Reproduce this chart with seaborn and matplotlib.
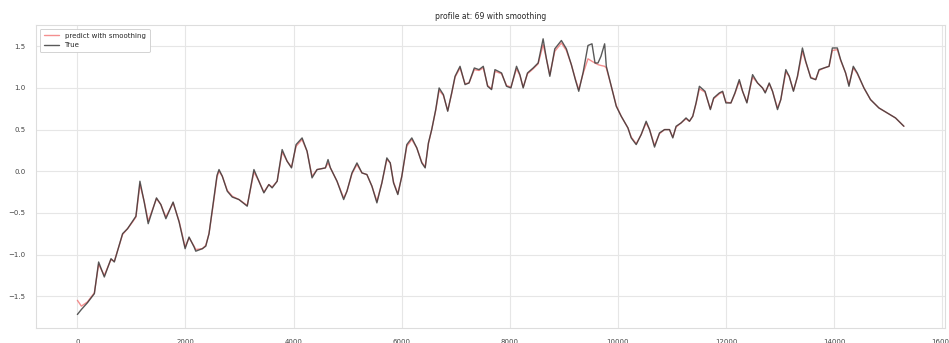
import matplotlib
matplotlib.use("Agg")
import matplotlib.pyplot as plt
import seaborn as sns
import pandas as pd

# sample positions along the profile
step = [0, 74, 185, 314, 393, 498, 622, 683, 836, 928, 1020, 1083, 1157, 1236, 1310,
        1463, 1544, 1637, 1771, 1882, 1993, 2066, 2159, 2190, 2312, 2375, 2435, 2509,
        2583, 2620, 2681, 2773, 2865, 2989, 3142, 3266, 3358, 3450, 3542, 3603, 3696,
        3788, 3880, 3961, 4046, 4157, 4249, 4341, 4434, 4588, 4637, 4681, 4803, 4926,
        4987, 5080, 5172, 5264, 5356, 5449, 5541, 5633, 5725, 5788, 5849, 5928, 6002,
        6094, 6187, 6279, 6371, 6434, 6494, 6555, 6629, 6692, 6771, 6851, 6924, 6987,
        7079, 7172, 7245, 7343, 7430, 7509, 7589, 7662, 7725, 7847, 7939, 8020, 8124,
        8186, 8247, 8327, 8432, 8524, 8616, 8677, 8740, 8832, 8954, 9046, 9138, 9212,
        9275, 9354, 9446, 9520, 9576, 9631, 9686, 9754, 9785, 9877, 9969, 10061, 10185,
        10246, 10338, 10430, 10522, 10585, 10677, 10769, 10862, 10954, 11015, 11076,
        11168, 11260, 11323, 11384, 11445, 11507, 11611, 11710, 11771, 11876, 11937,
        11998, 12090, 12164, 12245, 12306, 12386, 12491, 12583, 12675, 12725, 12799,
        12860, 12952, 13013, 13106, 13168, 13247, 13321, 13413, 13474, 13567, 13659,
        13721, 13813, 13906, 13967, 14059, 14120, 14212, 14274, 14354, 14428, 14551,
        14673, 14828, 14981, 15135, 15290]

true_vals = [-1.72, -1.66, -1.58, -1.47, -1.09, -1.27, -1.05, -1.09, -0.75, -0.69, -0.60,
             -0.54, -0.12, -0.37, -0.63, -0.32, -0.40, -0.57, -0.37, -0.61, -0.93, -0.79,
             -0.91, -0.96, -0.93, -0.90, -0.75, -0.40, -0.05, 0.02, -0.06, -0.24, -0.31,
             -0.34, -0.42, 0.02, -0.12, -0.26, -0.16, -0.20, -0.12, 0.26, 0.12, 0.04,
             0.32, 0.40, 0.24, -0.08, 0.02, 0.04, 0.14, 0.04, -0.12, -0.34, -0.24, -0.02,
             0.10, -0.02, -0.04, -0.18, -0.38, -0.14, 0.16, 0.10, -0.14, -0.28, -0.06,
             0.32, 0.40, 0.28, 0.10, 0.04, 0.34, 0.50, 0.74, 1.00, 0.92, 0.72, 0.94,
             1.14, 1.26, 1.04, 1.06, 1.24, 1.22, 1.26, 1.02, 0.98, 1.22, 1.18, 1.02,
             1.00, 1.26, 1.16, 1.00, 1.18, 1.24, 1.30, 1.59, 1.35, 1.14, 1.47, 1.57,
             1.47, 1.28, 1.10, 0.96, 1.18, 1.51, 1.53, 1.30, 1.30, 1.38, 1.53, 1.26,
             1.02, 0.78, 0.66, 0.52, 0.40, 0.32, 0.44, 0.60, 0.50, 0.29, 0.46, 0.50,
             0.50, 0.40, 0.54, 0.58, 0.64, 0.60, 0.66, 0.82, 1.02, 0.96, 0.74, 0.88,
             0.94, 0.96, 0.82, 0.82, 0.94, 1.10, 0.96, 0.82, 1.16, 1.06, 1.00, 0.94,
             1.06, 0.96, 0.74, 0.86, 1.22, 1.14, 0.96, 1.14, 1.48, 1.32, 1.12, 1.10,
             1.22, 1.24, 1.26, 1.48, 1.48, 1.34, 1.18, 1.02, 1.26, 1.18, 1.00, 0.86,
             0.76, 0.70, 0.64, 0.54]

pred_vals = [-1.55, -1.62, -1.57, -1.46, -1.12, -1.25, -1.06, -1.08, -0.76, -0.69, -0.61,
             -0.55, -0.16, -0.36, -0.60, -0.33, -0.40, -0.55, -0.38, -0.60, -0.91, -0.80,
             -0.90, -0.94, -0.93, -0.89, -0.75, -0.42, -0.07, 0.00, -0.06, -0.23, -0.30,
             -0.34, -0.41, -0.01, -0.12, -0.25, -0.16, -0.19, -0.12, 0.23, 0.12, 0.05,
             0.30, 0.38, 0.24, -0.06, 0.02, 0.04, 0.10, 0.04, -0.12, -0.32, -0.24, -0.03,
             0.08, -0.02, -0.04, -0.18, -0.36, -0.14, 0.14, 0.10, -0.13, -0.27, -0.06,
             0.30, 0.38, 0.28, 0.11, 0.05, 0.33, 0.50, 0.73, 0.97, 0.91, 0.73, 0.93,
             1.13, 1.24, 1.05, 1.06, 1.22, 1.21, 1.24, 1.03, 0.99, 1.20, 1.17, 1.03,
             1.01, 1.23, 1.15, 1.01, 1.17, 1.23, 1.29, 1.52, 1.35, 1.16, 1.44, 1.54,
             1.45, 1.28, 1.11, 0.98, 1.17, 1.35, 1.32, 1.30, 1.28, 1.27, 1.26, 1.24,
             1.02, 0.79, 0.66, 0.52, 0.41, 0.33, 0.44, 0.58, 0.50, 0.31, 0.45, 0.50,
             0.50, 0.41, 0.53, 0.58, 0.63, 0.60, 0.66, 0.81, 0.99, 0.95, 0.75, 0.87,
             0.93, 0.95, 0.83, 0.82, 0.93, 1.08, 0.96, 0.83, 1.13, 1.06, 1.00, 0.95,
             1.05, 0.96, 0.76, 0.86, 1.19, 1.14, 0.97, 1.13, 1.44, 1.31, 1.13, 1.10,
             1.21, 1.24, 1.26, 1.45, 1.46, 1.33, 1.18, 1.04, 1.24, 1.17, 1.00, 0.86,
             0.76, 0.70, 0.64, 0.54]

df = pd.DataFrame({"step": step, "true": true_vals, "pred": pred_vals})

sns.set_theme(style="whitegrid")
plt.rcParams["font.family"] = ["DejaVu Sans"]

fig = plt.figure(figsize=(9.49, 3.43), dpi=100)
ax = fig.add_axes([0.038, 0.043, 0.958, 0.884])

sns.lineplot(data=df, x="step", y="pred", ax=ax, color="#f06060", alpha=0.7,
             linewidth=1.0, label="predict with smoothing")
sns.lineplot(data=df, x="step", y="true", ax=ax, color="#303030", alpha=0.8,
             linewidth=1.0, label="True")

ax.set_title("profile at: 69 with smoothing", fontsize=5.5, pad=4)
ax.set_xlabel("")
ax.set_ylabel("")
ax.set_xticks([0, 2000, 4000, 6000, 8000, 10000, 12000, 14000, 16000])
ax.set_yticks([-1.5, -1.0, -0.5, 0.0, 0.5, 1.0, 1.5])
ax.tick_params(labelsize=5, pad=1.5, labelcolor="#444444")
ax.grid(color="#e6e6e6", linewidth=0.8)
for s in ax.spines.values():
    s.set_color("#dddddd")
    s.set_linewidth(0.8)

leg = ax.legend(loc="upper left", fontsize=5, frameon=True, framealpha=1,
                edgecolor="#cccccc", handlelength=2.2, borderpad=0.6)
leg.get_frame().set_linewidth(0.6)

fig.savefig("out.png", dpi=100)
